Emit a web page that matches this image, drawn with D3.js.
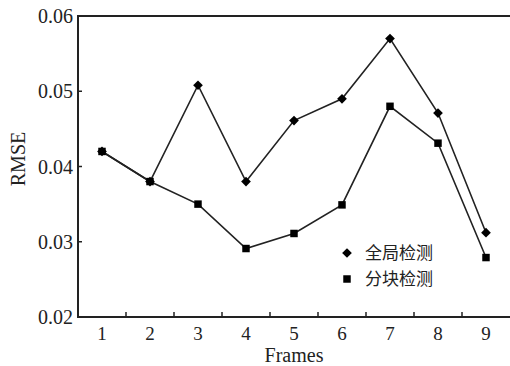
<!DOCTYPE html>
<html>
<head>
<meta charset="utf-8">
<script src="https://cdn.jsdelivr.net/npm/d3@7"></script>
<style>
  body { margin: 0; background: #fff; }
  svg { display: block; }
</style>
</head>
<body>
<div id="chart-area"></div>
<script>
// data
let frames = [1, 2, 3, 4, 5, 6, 7, 8, 9];
let globalDet = [0.042, 0.038, 0.0508, 0.038, 0.0461, 0.049, 0.057, 0.0471, 0.0312];
let blockDet = [0.042, 0.038, 0.0350, 0.0291, 0.0311, 0.0349, 0.048, 0.0431, 0.0279];
let yTicks = [0.02, 0.03, 0.04, 0.05, 0.06];
let seriesNames = ["全局检测", "分块检测"];

let W = 510, H = 366;
let plotL = 78, plotT = 16, plotB = 317, plotR = 510;

let svg = d3.select("#chart-area").append("svg")
	.attr("width", W)
	.attr("height", H);

let x = d3.scaleBand()
	.domain(frames)
	.range([plotL, plotR])
	.padding(0);

let y = d3.scaleLinear()
	.domain([0.02, 0.06])
	.range([plotB, plotT]);

let cx = (d) => x(d) + x.bandwidth() / 2;

// frame lines (right side is cut off in the original)
svg.append("path")
	.attr("d", "M" + plotR + "," + plotT + "H" + plotL + "V" + plotB + "H" + plotR)
	.attr("fill", "none")
	.attr("stroke", "#222")
	.attr("stroke-width", 2);

// x ticks sit between categories, pointing inward
let xTickPos = frames.slice(1).map((d) => x(d));
svg.selectAll(".xtick").data(xTickPos).enter()
	.append("line")
	.attr("x1", (d) => d).attr("x2", (d) => d)
	.attr("y1", plotB).attr("y2", plotB - 5)
	.attr("stroke", "#222").attr("stroke-width", 1.5);

svg.selectAll(".xlab").data(frames).enter()
	.append("text")
	.attr("x", (d) => cx(d))
	.attr("y", plotB + 23)
	.attr("text-anchor", "middle")
	.attr("font-family", "Liberation Serif, serif")
	.attr("font-size", "19px")
	.attr("fill", "#222")
	.text((d) => d);

// y ticks
svg.selectAll(".ytick").data(yTicks).enter()
	.append("line")
	.attr("x1", plotL).attr("x2", plotL + 4)
	.attr("y1", (d) => y(d)).attr("y2", (d) => y(d))
	.attr("stroke", "#222").attr("stroke-width", 1.5);

svg.selectAll(".ylab").data(yTicks).enter()
	.append("text")
	.attr("x", plotL - 5)
	.attr("y", (d) => y(d))
	.attr("dy", "0.35em")
	.attr("text-anchor", "end")
	.attr("font-family", "Liberation Serif, serif")
	.attr("font-size", "20px")
	.attr("fill", "#222")
	.text((d) => d3.format(".2f")(d));

svg.append("text")
	.attr("x", cx(5))
	.attr("y", 362)
	.attr("text-anchor", "middle")
	.attr("font-family", "Liberation Serif, serif")
	.attr("font-size", "20px")
	.attr("fill", "#222")
	.text("Frames");

svg.append("text")
	.attr("transform", "translate(25,159) rotate(-90)")
	.attr("text-anchor", "middle")
	.attr("font-family", "Liberation Serif, serif")
	.attr("font-size", "20px")
	.attr("fill", "#222")
	.text("RMSE");

let line = d3.line()
	.x((d, i) => cx(frames[i]))
	.y((d) => y(d));

[globalDet, blockDet].forEach((s) => {
	svg.append("path")
		.datum(s)
		.attr("d", line)
		.attr("fill", "none")
		.attr("stroke", "#222")
		.attr("stroke-width", 1.6);
});

let diamond = d3.symbol().type(d3.symbolDiamond2).size(60);
let square = d3.symbol().type(d3.symbolSquare).size(56);

svg.selectAll(".gm").data(globalDet).enter()
	.append("path")
	.attr("d", diamond)
	.attr("transform", (d, i) => "translate(" + cx(frames[i]) + "," + y(d) + ")")
	.attr("fill", "#000");

svg.selectAll(".bm").data(blockDet).enter()
	.append("path")
	.attr("d", square)
	.attr("transform", (d, i) => "translate(" + cx(frames[i]) + "," + y(d) + ")")
	.attr("fill", "#000");

// legend
let legend = svg.append("g").attr("transform", "translate(347,253)");
[diamond, square].forEach((sym, i) => {
	legend.append("path")
		.attr("d", sym)
		.attr("transform", "translate(0," + i * 26 + ")")
		.attr("fill", "#000");
	legend.append("text")
		.attr("x", 18)
		.attr("y", i * 26)
		.attr("dy", "0.36em")
		.attr("font-family", "Noto Sans CJK SC, sans-serif")
		.attr("font-size", "17px")
		.attr("fill", "#222")
		.text(seriesNames[i]);
});
</script>
</body>
</html>
